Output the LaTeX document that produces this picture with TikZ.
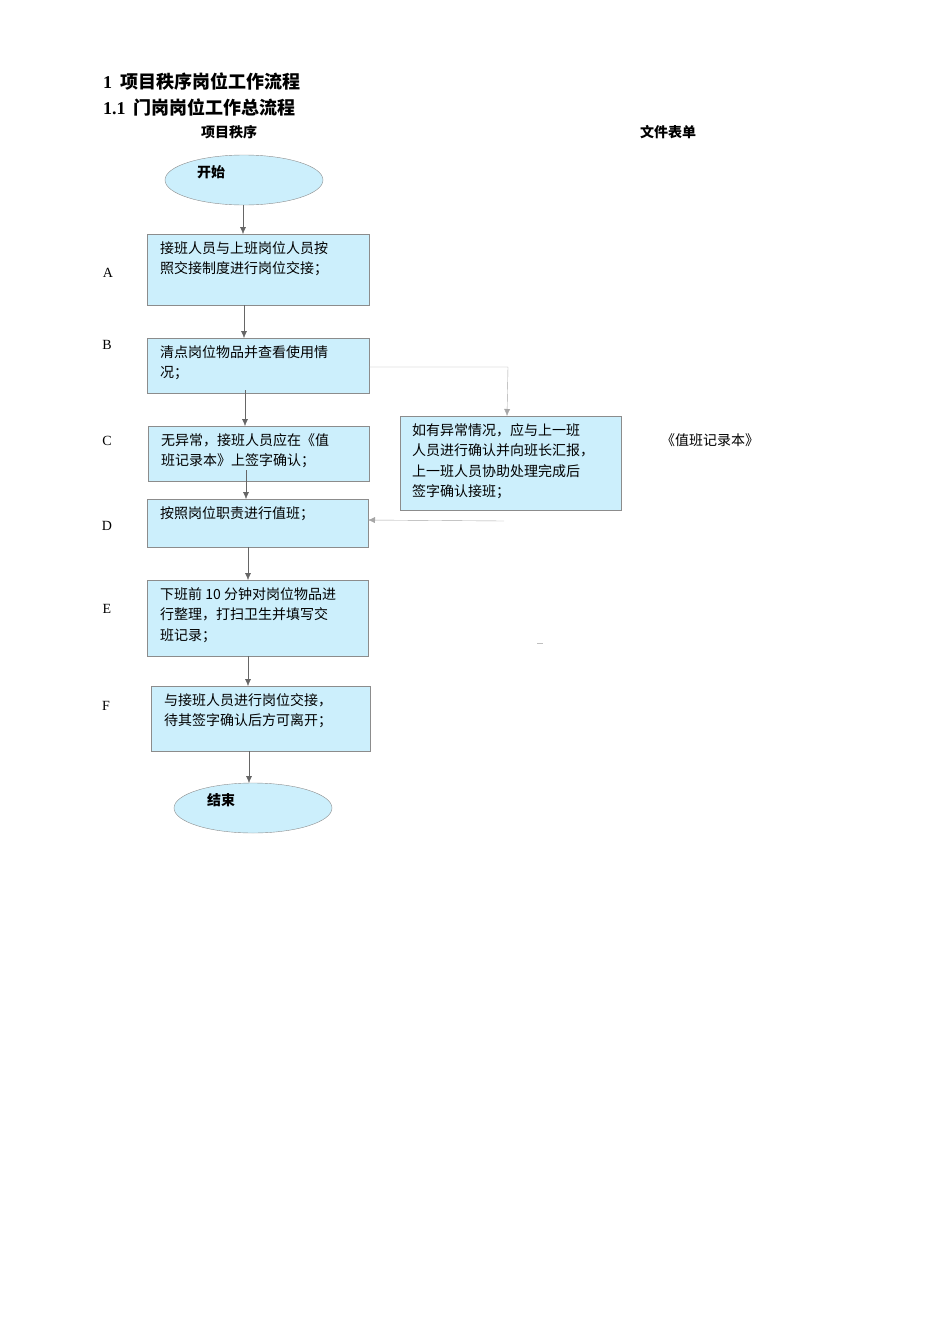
\documentclass[tikz,border=0pt]{standalone}
\usepackage{fontspec}
\setmainfont{Liberation Serif}
\newfontfamily\cjk{Noto Sans CJK SC}
\usetikzlibrary{arrows.meta}
\begin{document}
\begin{tikzpicture}[x=1pt,y=-1pt,
  bx/.style={draw=black!45,fill=cyan!20,line width=0.4pt},
  el/.style={draw=black!45,fill=cyan!20,ellipse,line width=0.4pt},
  tx/.style={anchor=north west,align=left,inner sep=0pt,font=\fontsize{14}{20.5}\selectfont\cjk},
  lb/.style={font=\fontsize{14}{16}\selectfont},
  ar/.style={-{Latex[length=7pt,width=6pt]},line width=0.4pt,draw=black!60}]
\useasboundingbox (0,0) rectangle (950,1344);
\node[anchor=west,inner sep=0pt,font=\fontsize{18}{20}\selectfont\bfseries] (t1) at (103,82) {1\hspace{8pt}{\cjk 项目秩序岗位工作流程}};
\node[anchor=west,inner sep=0pt,font=\fontsize{18}{20}\selectfont\bfseries] (t2) at (103,107) {1.1\hspace{8pt}{\cjk 门岗岗位工作总流程}};
\node[font=\fontsize{14}{16}\selectfont\cjk\bfseries] (h1) at (229,132) {项目秩序};
\node[font=\fontsize{14}{16}\selectfont\cjk\bfseries] (h2) at (668,132) {文件表单};
\fill[cyan!20,draw=black!45] (244,180) ellipse (79 and 25);
\node[font=\fontsize{14}{16}\selectfont\cjk\bfseries] (st) at (211,172) {开始};
\coordinate (s) at (243,205);
\draw[bx] (147,234) rectangle (369,305);
\node[tx] (a) at (160,241) {接班人员与上班岗位人员按\\照交接制度进行岗位交接；};
\draw[bx] (147,338) rectangle (369,393);
\node[tx] (b) at (160,345) {清点岗位物品并查看使用情\\况；};
\draw[bx] (148,426) rectangle (369,481);
\node[tx] (c) at (161,433) {无异常，接班人员应在《值\\班记录本》上签字确认；};
\draw[bx] (147,499) rectangle (368,547);
\node[tx] (d) at (160,506) {按照岗位职责进行值班；};
\draw[bx] (147,580) rectangle (368,656);
\node[tx] (e) at (160,587) {下班前 10 分钟对岗位物品进\\行整理，打扫卫生并填写交\\班记录；};
\draw[bx] (151,686) rectangle (370,751);
\node[tx] (f) at (164,693) {与接班人员进行岗位交接，\\待其签字确认后方可离开；};
\fill[cyan!20,draw=black!45] (253,808) ellipse (79 and 25);
\node[font=\fontsize{14}{16}\selectfont\cjk\bfseries] (en) at (221,800) {结束};
\draw[bx] (400,416) rectangle (621,510);
\node[tx] (g) at (412,423) {如有异常情况，应与上一班\\人员进行确认并向班长汇报，\\上一班人员协助处理完成后\\签字确认接班；};
\node[font=\fontsize{14}{16}\selectfont\cjk] (rec) at (710,440) {《值班记录本》};
\node[lb] (la) at (108,273) {A};
\node[lb] (lbb) at (107,345) {B};
\node[lb] (lc) at (107,441) {C};
\node[lb] (ld) at (107,526) {D};
\node[lb] (le) at (107,609) {E};
\node[lb] (lf) at (106,706) {F};
\draw[ar] (243,205) -- (243,234);
\draw[ar] (244,305) -- (244,338);
\draw[ar] (245,390) -- (245,426);
\draw[ar] (246,470) -- (246,499);
\draw[ar] (248,547) -- (248,580);
\draw[ar] (248,656) -- (248,686);
\draw[ar] (249,751) -- (249,783);
\draw[ar,draw=black!35] (369,367) -- (508,367) -- (507,416);
\draw[ar,draw=black!35] (504,521) -- (368,520);
\draw[black!25] (537,643) -- (543,643);
\end{tikzpicture}
\end{document}
